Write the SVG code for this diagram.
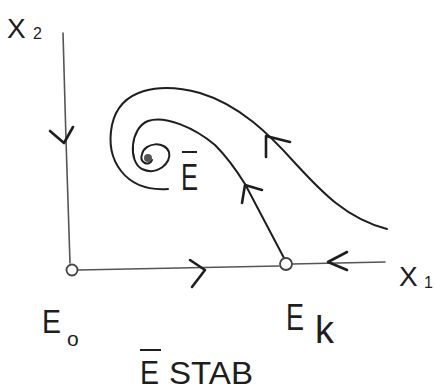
<svg xmlns="http://www.w3.org/2000/svg" width="435" height="391" viewBox="0 0 435 391">
<style>
.axis{fill:none;stroke:#555;stroke-width:1.6;stroke-linecap:round;stroke-linejoin:round}
.traj{fill:none;stroke:#1e1e1e;stroke-width:2;stroke-linecap:round;stroke-linejoin:round}
.head{fill:none;stroke:#1e1e1e;stroke-width:2.6;stroke-linecap:round;stroke-linejoin:round}
.pt{fill:#fff;stroke:#444;stroke-width:1.8}
.lbl{font-family:"Liberation Sans",Arial,sans-serif;fill:#1e1e1e}
</style>
<rect width="435" height="391" fill="#fff"/>
<g id="connectors">
  <path class="axis" d="M63,33 L66,140 L70,263"/>
  <polyline class="head" points="50,131 64,143 73,127"/>
  <path class="axis" d="M78,270 L279,266 M292,264 L385,262"/>
  <polyline class="head" points="190,260 205,270 192,287"/>
  <polyline class="head" points="347,252 328,262 347,270"/>
  <path class="traj" d="M387,229 C345,218 320,190 295,163 C270,135 240,105 200,93 C160,82 120,88 112,125 C105,160 125,192 168,189"/>
  <polyline class="head" points="266,157 266,136 290,142"/>
  <path class="traj" d="M284,258 L245,184 C235,168 225,155 215,145 C195,128 165,115 148,121 C130,128 128,162 142,169 C157,176 172,163 169,152 C165,141 145,142 142,154 C139,163 149,167 152,160"/>
  <polyline class="head" points="242,203 245,185 262,190"/>
</g>
<g id="E0">
  <circle class="pt" cx="72" cy="270" r="5.5"/>
  <text class="lbl" x="42" y="333" font-size="34" textLength="19" lengthAdjust="spacingAndGlyphs">E</text>
  <text class="lbl" x="67" y="346" font-size="21">o</text>
</g>
<g id="Ek">
  <circle class="pt" cx="286" cy="264" r="6"/>
  <text class="lbl" x="286" y="330" font-size="36" textLength="18" lengthAdjust="spacingAndGlyphs">E</text>
  <text class="lbl" x="315" y="343" font-size="38">k</text>
</g>
<g id="Ebar">
  <circle cx="148" cy="158" r="4" fill="#555"/>
  <text class="lbl" x="181" y="190" font-size="36" textLength="17" lengthAdjust="spacingAndGlyphs">E</text>
  <line x1="182" y1="152" x2="197" y2="152" stroke="#1e1e1e" stroke-width="2"/>
</g>
<g id="axis-labels">
  <text class="lbl" x="7" y="38" font-size="28">X</text>
  <text class="lbl" x="33" y="39" font-size="16">2</text>
  <text class="lbl" x="399" y="286" font-size="28">X</text>
  <text class="lbl" x="424" y="288" font-size="16">1</text>
</g>
<g id="caption">
  <line x1="140" y1="350" x2="161" y2="350" stroke="#1e1e1e" stroke-width="2"/>
  <text class="lbl" x="140" y="384" font-size="34" textLength="19" lengthAdjust="spacingAndGlyphs">E</text>
  <text class="lbl" x="169" y="384" font-size="31" textLength="84" lengthAdjust="spacingAndGlyphs">STAB</text>
</g>
</svg>
